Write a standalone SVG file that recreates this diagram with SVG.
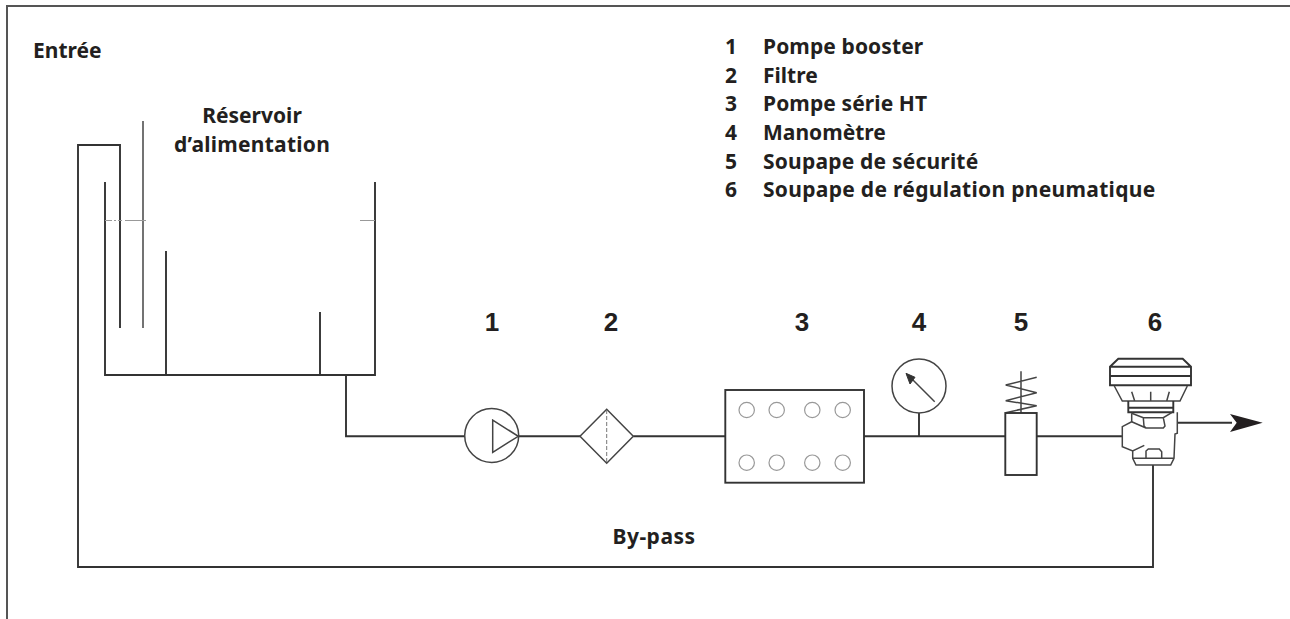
<svg xmlns="http://www.w3.org/2000/svg" width="1290" height="619" viewBox="0 0 1290 619">
<style>
text{font-family:"Noto Sans","Open Sans",sans-serif;font-weight:700;font-size:21px;fill:#231f20}
.n{font-family:"Liberation Sans",Arial,sans-serif;font-size:26px;text-anchor:middle}
.m{text-anchor:middle}
.l{fill:none;stroke:#333;stroke-width:1.9;stroke-linejoin:miter}
.t{fill:none;stroke:#444;stroke-width:1.5}
.g{fill:none;stroke:#999;stroke-width:1.2}
</style>
<path id="frame" d="M1290 6H7V619" fill="none" stroke="#555" stroke-width="2"/>
<g id="labels">
<text x="33" y="58">Entrée</text>
<text class="m" x="252" y="122.500">Réservoir</text>
<text class="m" x="252" y="151.500" style="letter-spacing:.25px">d’alimentation</text>
<text x="725" y="54">1</text><text x="763" y="54" style="letter-spacing:.1px">Pompe booster</text>
<text x="725" y="82.700">2</text><text x="763" y="82.700">Filtre</text>
<text x="725" y="111">3</text><text x="763" y="111" style="letter-spacing:.1px">Pompe série HT</text>
<text x="725" y="140">4</text><text x="763" y="140">Manomètre</text>
<text x="725" y="168.700">5</text><text x="763" y="168.700" style="letter-spacing:.2px">Soupape de sécurité</text>
<text x="725" y="197.300">6</text><text x="763" y="197.300" style="letter-spacing:.3px">Soupape de régulation pneumatique</text>
<text class="n" x="492" y="331">1</text>
<text class="n" x="611" y="331">2</text>
<text class="n" x="802" y="331">3</text>
<text class="n" x="919" y="331">4</text>
<text class="n" x="1021" y="331">5</text>
<text class="n" x="1155" y="331">6</text>
<text class="m" x="654" y="544" style="letter-spacing:.5px">By-pass</text>
</g>
<g id="connectors">
<path class="l" d="M120 328V145H78V567H1153V465"/>
<path class="l" d="M346 375V436.300H465"/>
<path class="l" d="M519 436.300H580M633.300 436.300H725M864 436.300H1005M1036.700 436.300H1122.300"/>
<path class="l" d="M919 436V413"/>
</g>
<g id="reservoir">
<path class="l" d="M105 182V375H375V182"/>
<path class="t" d="M143 121V328"/>
<path class="l" d="M166 251V375M320 312V375"/>
<path class="g" d="M105 220.500H112M114 220.500H116M118 220.500H122M125 220.500H146M360 220.500H375"/>
</g>
<g id="pump1">
<circle class="t" cx="491.700" cy="435.500" r="27"/>
<path class="t" d="M492.700 420V452.300L518.300 436.300Z"/>
</g>
<g id="filter2">
<path class="t" d="M606.700 409.300L633.300 436.300L606.700 463.300L580 436.300Z"/>
<path d="M606.700 410V462" fill="none" stroke="#777" stroke-width="1" stroke-dasharray="4 2"/>
</g>
<g id="pump3">
<rect class="l" x="725.300" y="390" width="138.700" height="92.700"/>
<circle class="g" cx="746.700" cy="410" r="7.700"/><circle class="g" cx="776.700" cy="410" r="7.700"/><circle class="g" cx="812.300" cy="410" r="7.700"/><circle class="g" cx="842.700" cy="410" r="7.700"/>
<circle class="g" cx="746.700" cy="462.700" r="7.700"/><circle class="g" cx="776.700" cy="462.700" r="7.700"/><circle class="g" cx="812.300" cy="462.700" r="7.700"/><circle class="g" cx="842.700" cy="462.700" r="7.700"/>
</g>
<g id="gauge4">
<circle class="t" cx="919" cy="386" r="27"/>
<path class="t" d="M934.700 401.700L911 378"/>
<path d="M906 373.300L915 377.300L910 384Z" fill="#333" stroke="#333"/>
</g>
<g id="valve5">
<path class="t" d="M1021 371.300V413M1036.700 377.300L1005.700 385L1036.700 392.700L1005.700 400.700L1036.700 405.700L1005.700 412.700"/>
<rect class="l" x="1005.300" y="413" width="31.400" height="62"/>
</g>
<g id="valve6">
<path class="l" d="M1118.300 358.700H1182.700L1191 366.700V385.300H1110V366.700ZM1110 366.700H1191M1110 376H1191"/>
<path class="t" d="M1114.300 386L1122.300 401H1180L1187.300 386M1131.700 391.700L1134.700 401M1150.700 391.700V401M1169.300 391.700L1166.700 401"/>
<path class="l" d="M1128.300 401V412.300H1173.300V401M1128.300 407.700H1173.300"/>
<path class="t" d="M1131.700 413.300V421.700L1122.300 426.700V446.700L1132.700 451L1144.300 445.300M1132.700 451V458.300L1136 465H1170.700L1174 458.300L1175 434L1177.300 433.300V412.300"/>
<path class="t" d="M1132.700 458.300H1174M1146 458.300V451L1148.300 449H1159.300L1161.700 451.700V458.300"/>
<path class="t" d="M1131.700 413.300L1143.300 417.700H1163.300L1171.700 412.700M1143.300 417.700L1144 426L1146 428H1163.300L1165 426L1163.300 417.700M1131.700 421.700L1146 428"/>
<path class="l" d="M1178 422.700H1232"/>
<path d="M1230 414L1262.700 422.700L1230 432L1236.700 422.700Z" fill="#231f20"/>
</g>
</svg>
